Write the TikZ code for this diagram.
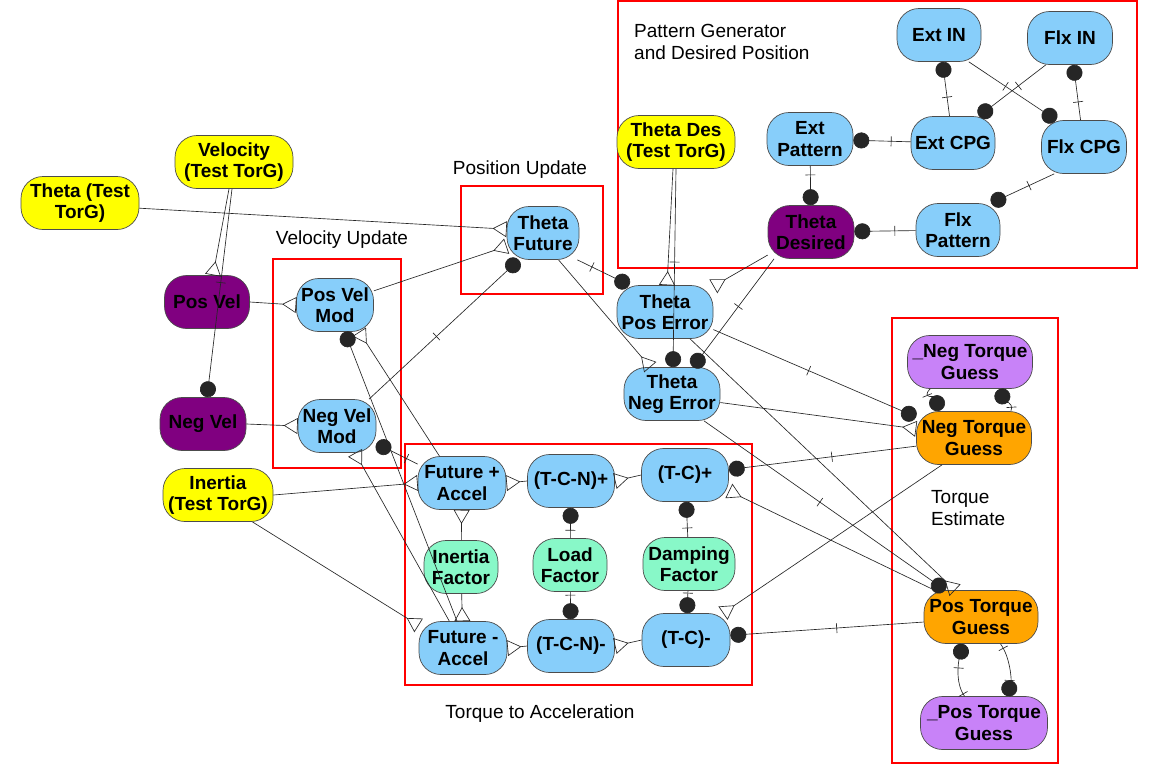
\documentclass[tikz,border=0pt]{standalone}
\usepackage{fontspec}
\setmainfont{Liberation Sans}
\usetikzlibrary{arrows.meta,calc}
\definecolor{cyel}{HTML}{FFFF00}
\definecolor{cpur}{HTML}{800080}
\definecolor{cblu}{HTML}{87CEFA}
\definecolor{cgrn}{HTML}{88F8C8}
\definecolor{cora}{HTML}{FFA500}
\definecolor{cvio}{HTML}{C882F8}
\definecolor{cline}{HTML}{262626}
\tikzset{
  box/.style={draw=black!70, line width=0.7pt, rounded corners=22pt, minimum height=53pt,
    inner sep=0pt, align=center, font=\fontsize{19}{21.5}\selectfont\bfseries},
  yb/.style={box, fill=cyel},
  pb/.style={box, fill=cpur},
  bb/.style={box, fill=cblu},
  gb/.style={box, fill=cgrn},
  ob/.style={box, fill=cora},
  vb/.style={box, fill=cvio},
  con/.style={draw=cline, line width=0.65pt},
  dotE/.style={con, -{Circle[length=16pt, width=16pt]}},
  crowE/.style={con, -{Triangle[open, reversed, length=14pt, width=16pt, line width=0.65pt]}},
  tk/.style={sloped, draw=cline, line width=0.65pt, minimum width=0pt, minimum height=10pt,
    inner sep=0pt, outer sep=0pt},
  grp/.style={draw=red, line width=1.5pt},
  lbl/.style={font=\fontsize{19}{21.5}\selectfont, align=left, inner sep=0pt}
}
\begin{document}
\begin{tikzpicture}[x=1pt,y=-1pt]
\useasboundingbox (0,0) rectangle (1158,764);
\fill[white] (0,0) rectangle (1158,764);

% group frames
\draw[grp] (461,186) rectangle (603,294);
\draw[grp] (273,259) rectangle (401,468);
\draw[grp] (618,1) rectangle (1137,268);
\draw[grp] (405,444) rectangle (752,685);
\draw[grp] (892,318) rectangle (1058,763);

% labels
\node[lbl, anchor=base] (lPos) at (520,174) {Position Update};
\node[lbl, anchor=base] (lVel) at (342,244) {Velocity Update};
\node[lbl, anchor=base west] (lPat) at (634,59) {Pattern Generator\\and Desired Position};
\node[lbl, anchor=base] (lTor) at (540,718) {Torque to Acceleration};
\node[lbl, anchor=base west] (lEst) at (931,525) {Torque\\Estimate};

% nodes
\node[yb, minimum width=118pt] (thT) at (80,203) {Theta (Test\\TorG)};
\node[yb, minimum width=118pt] (velT) at (234,162) {Velocity\\(Test TorG)};
\node[yb, minimum width=118pt] (thDT) at (676,142) {Theta Des\\(Test TorG)};
\node[yb, minimum width=110pt] (inT) at (218,495) {Inertia\\(Test TorG)};

\node[pb, minimum width=85pt] (posV) at (207,302) {Pos Vel};
\node[pb, minimum width=86pt] (negV) at (203,424) {Neg Vel};
\node[pb, minimum width=86pt] (thD) at (811,232) {Theta\\Desired};

\node[bb, minimum width=72pt] (thF) at (543,233) {Theta\\Future};
\node[bb, minimum width=77pt] (pvm) at (335,305) {Pos Vel\\Mod};
\node[bb, minimum width=78pt] (nvm) at (337,426) {Neg Vel\\Mod};
\node[bb, minimum width=96pt] (tpe) at (665,312) {Theta\\Pos Error};
\node[bb, minimum width=96pt] (tne) at (672,394) {Theta\\Neg Error};

\node[bb, minimum width=84pt] (extIN) at (939,35) {Ext IN};
\node[bb, minimum width=85pt] (flxIN) at (1070,38) {Flx IN};
\node[bb, minimum width=86pt] (extP) at (810,139) {Ext\\Pattern};
\node[bb, minimum width=84pt] (extC) at (953,143) {Ext CPG};
\node[bb, minimum width=85pt] (flxC) at (1084,147) {Flx CPG};
\node[bb, minimum width=84pt] (flxP) at (958,230) {Flx\\Pattern};

\node[bb, minimum width=88pt] (fpa) at (462,483) {Future +\\Accel};
\node[bb, minimum width=87pt] (tcnp) at (571,481) {(T-C-N)+};
\node[bb, minimum width=87pt] (tcp) at (685,475) {(T-C)+};
\node[bb, minimum width=88pt] (fma) at (463,648) {Future -\\Accel};
\node[bb, minimum width=87pt] (tcnm) at (571,646) {(T-C-N)-};
\node[bb, minimum width=88pt] (tcm) at (686,640) {(T-C)-};

\node[gb, minimum width=74pt] (inF) at (461,567) {Inertia\\Factor};
\node[gb, minimum width=74pt] (ldF) at (570,565) {Load\\Factor};
\node[gb, minimum width=92pt] (dmF) at (689,564) {Damping\\Factor};

\node[ob, minimum width=115pt] (ntg) at (974,438) {Neg Torque\\Guess};
\node[ob, minimum width=114pt] (ptg) at (981,617) {Pos Torque\\Guess};
\node[vb, minimum width=125pt] (untg) at (970,362) {\_Neg Torque\\Guess};
\node[vb, minimum width=127pt] (uptg) at (984,723) {\_Pos Torque\\Guess};

% connectors
\draw[crowE] (thT.-5) -- (thF.174);
\draw[crowE] (pvm.20) -- (thF.200);
\draw[dotE] (nvm.40) -- (thF.228) node[tk,pos=0.45]{};
\draw[crowE] ([xshift=-5pt]velT.south) -- ([xshift=6pt]posV.north);
\draw[dotE] ([xshift=-2pt]velT.south) -- ([xshift=4pt]negV.north) node[tk,pos=0.45]{};
\draw[crowE] (posV.east) -- (pvm.west);
\draw[crowE] (negV.east) -- (nvm.west);
\draw[crowE] (fpa.130) -- (pvm.-48);
\draw[dotE] ([xshift=-6pt]fma.north) -- (pvm.-70);
\draw[crowE] (fma.117) -- (nvm.-56);
\draw[crowE] (inF) -- (fma);
\draw[crowE] (inF) -- (fpa);
\draw[dotE] (fpa.157) -- (nvm.-24) node[tk,pos=0.27]{};
\draw[crowE] (inT.east) -- (fpa.west);
\draw[crowE] (inT.-38) -- (fma.153);

\draw[crowE] (tcnp.west) -- (fpa.east);
\draw[crowE] (tcp.west) -- (tcnp.east);
\draw[crowE] (tcnm.west) -- (fma.east);
\draw[crowE] (tcm.west) -- (tcnm.east);
\draw[dotE] (ldF) -- (tcnp) node[tk,pos=0.26]{};
\draw[dotE] (ldF) -- (tcnm) node[tk,pos=0.12]{};
\draw[dotE] (dmF) -- (tcp) node[tk,pos=0.26]{};
\draw[dotE] (dmF) -- (tcm) node[tk,pos=0.1]{};

\draw[dotE] (ntg.188) -- (tcp.7) node[tk,pos=0.45]{};
\draw[crowE] (ptg.150) -- (tcp.-20);
\draw[dotE] (tne.-40) -- (ptg.143) node[tk,pos=0.48]{};
\draw[crowE] (tpe.-47) -- (ptg.134);
\draw[dotE] (tpe.-20) -- (ntg.160) node[tk,pos=0.47]{};
\draw[crowE] (tne.-10) -- (ntg.171);
\draw[crowE] (ntg.220) -- (tcm.36);
\draw[dotE] (ptg.185) -- (tcm.6) node[tk,pos=0.45]{};

\draw[dotE] (thF.-38) -- (tpe.143) node[tk,pos=0.28]{};
\draw[crowE] (thF.-60) -- (tne.129);
\draw[crowE] ([xshift=-3pt]thDT.south) -- ([xshift=2pt]tpe.north);
\draw[dotE] (thDT.south) -- ([xshift=1pt]tne.north) node[tk,pos=0.47]{};
\draw[crowE] (thD.208) -- (tpe.28);
\draw[dotE] (thD.216) -- (tne.52) node[tk,pos=0.44]{};

\draw[dotE] (extP) -- (thD) node[tk,pos=0.23]{};
\draw[dotE] (flxP) -- (thD) node[tk,pos=0.34]{};
\draw[dotE] (extC) -- (extP) node[tk,pos=0.34]{};
\draw[dotE] (extC) -- (extIN) node[tk,pos=0.35]{};
\draw[dotE] (flxC) -- (flxIN) node[tk,pos=0.33]{};
\draw[dotE] (extIN.-42) -- (flxC.136) node[tk,pos=0.42]{};
\draw[dotE] (flxIN.228) -- (extC.46) node[tk,pos=0.41]{};
\draw[dotE] (flxC.222) -- (flxP.39) node[tk,pos=0.4]{};

\draw[dotE] (untg.214) .. controls +(-10,10) and +(0,-14) .. (ntg.144) node[tk,pos=0.3]{};
\draw[dotE] (ntg.36) .. controls +(3,-10) and +(4,12) .. (untg.-42) node[tk,pos=0.15]{};
\draw[dotE] (uptg.126) .. controls +(-10,-14) and +(-4,16) .. (ptg.236) node[tk,pos=0.05]{} node[tk,pos=0.55]{};
\draw[dotE] (ptg.-54) .. controls +(10,14) and +(4,-16) .. (uptg.49) node[tk,pos=0.1]{} node[tk,pos=0.7]{};
\end{tikzpicture}
\end{document}
